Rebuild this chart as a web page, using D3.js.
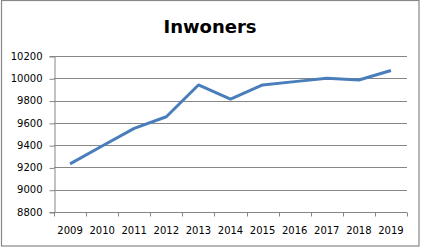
<!DOCTYPE html>
<html><head><meta charset="utf-8">
<script src="https://cdn.jsdelivr.net/npm/d3@7"></script>
<style>body{margin:0;background:#fff}svg{display:block}</style>
</head><body>
<script>
const categories = ["2009","2010","2011","2012","2013","2014","2015","2016","2017","2018","2019"];
const values = [9232, 9392, 9550, 9655, 9940, 9814, 9940, 9970, 10000, 9985, 10070];
const yTicks = [8800, 9000, 9200, 9400, 9600, 9800, 10000, 10200];
const title = "Inwoners";

const W = 422, H = 247;
const m = {l: 54, r: 407, t: 56, b: 212};
const svg = d3.select("body").append("svg").attr("width", W).attr("height", H);
svg.append("rect").attr("width", W).attr("height", H).attr("fill", "#fff");
svg.append("rect").attr("x", 1.5).attr("y", 0.5).attr("width", 417.5).attr("height", 245.5)
  .attr("fill", "none").attr("stroke", "#888").attr("stroke-width", 1.2);

const x = d3.scaleBand().domain(categories).range([m.l, m.r]);
const y = d3.scaleLinear().domain([8800, 10200]).range([m.b, m.t]);

const gridColor = "#868686";
svg.append("g").selectAll("line").data(yTicks).join("line")
  .attr("x1", m.l).attr("x2", m.r)
  .attr("y1", d => Math.round(y(d)) + 0.5).attr("y2", d => Math.round(y(d)) + 0.5)
  .attr("stroke", gridColor).attr("stroke-width", 1);

const ya = svg.append("g").attr("transform", `translate(${m.l + 0.5},0)`)
  .call(d3.axisLeft(y).tickValues(yTicks).tickSize(5).tickPadding(7).tickFormat(d3.format("d")));
ya.select(".domain").attr("stroke", gridColor);
ya.selectAll(".tick line").attr("stroke", gridColor).attr("transform", "translate(0,0.5)");
ya.selectAll("text").attr("font-family", "DejaVu Sans").attr("font-size", 10).attr("fill", "#000");

const boundaries = categories.map((c) => x(c)).concat([m.r]);
const xa = svg.append("g").attr("transform", `translate(0,${Math.round(y(8800)) + 0.5})`);
xa.append("line").attr("x1", m.l).attr("x2", m.r).attr("stroke", gridColor);
xa.selectAll("line.tk").data(boundaries).join("line").attr("class", "tk")
  .attr("x1", d => Math.round(d) + 0.5).attr("x2", d => Math.round(d) + 0.5)
  .attr("y1", 0).attr("y2", 4).attr("stroke", gridColor);
xa.selectAll("text").data(categories).join("text")
  .attr("x", d => x(d) + x.bandwidth() / 2).attr("y", 21.5)
  .attr("text-anchor", "middle").attr("font-family", "DejaVu Sans").attr("font-size", 10)
  .attr("fill", "#000").text(d => d);

const line = d3.line().x((d, i) => x(categories[i]) + x.bandwidth() / 2).y(d => y(d));
svg.append("path").datum(values).attr("d", line).attr("fill", "none")
  .attr("stroke", "#4a7ebb").attr("stroke-width", 3).attr("stroke-linejoin", "round");

svg.append("text").attr("x", 210).attr("y", 33).attr("text-anchor", "middle")
  .attr("font-family", "DejaVu Sans").attr("font-weight", "bold").attr("font-size", 18)
  .attr("fill", "#000").text(title);
</script>
</body></html>
